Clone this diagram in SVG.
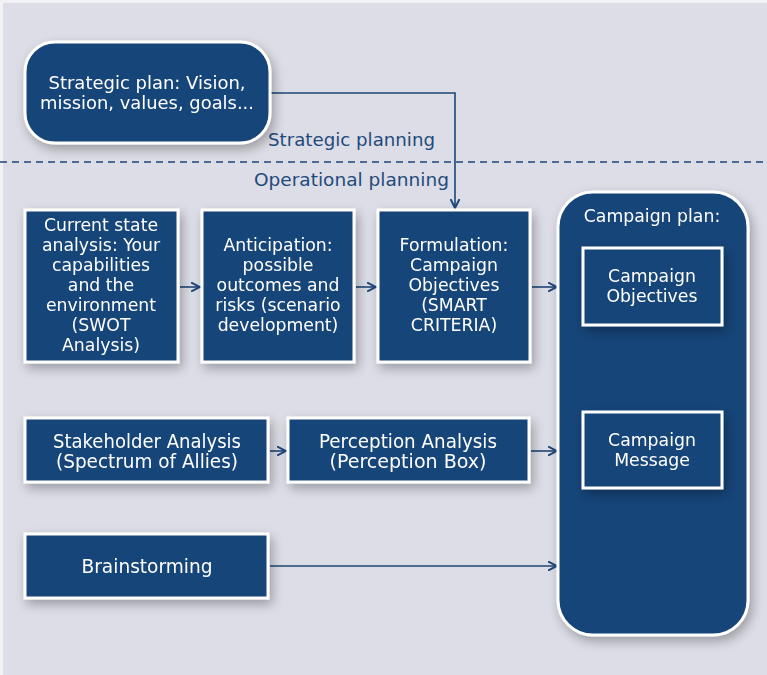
<svg xmlns="http://www.w3.org/2000/svg" width="767" height="675" viewBox="0 0 767 675">
<defs>
<filter id="sh" x="-30%" y="-30%" width="160%" height="160%">
<feGaussianBlur in="SourceAlpha" stdDeviation="6"/>
<feOffset dx="3" dy="5" result="b"/>
<feComponentTransfer><feFuncA type="linear" slope="0.3"/></feComponentTransfer>
<feMerge><feMergeNode/><feMergeNode in="SourceGraphic"/></feMerge>
</filter>
<marker id="ah2" viewBox="0 0 10 10" refX="9" refY="5" markerWidth="10" markerHeight="10" markerUnits="userSpaceOnUse" orient="auto">
<path d="M0,0.5 L9,5 L0,9.5" fill="none" stroke="#1d4679" stroke-width="2"/>
</marker>
</defs>
<style>
.box{fill:#174579;stroke:#ffffff;stroke-width:3}
.t{font-family:"DejaVu Sans","Liberation Sans",sans-serif;font-size:17.3px;fill:#ffffff;text-anchor:middle}
.c{font-family:"DejaVu Sans Condensed","DejaVu Sans","Liberation Sans",sans-serif;font-size:19px;fill:#ffffff;text-anchor:middle}
.lbl{font-family:"DejaVu Sans","Liberation Sans",sans-serif;font-size:18px;fill:#1f4a7c}
.ln{fill:none;stroke:#1d4679;stroke-width:1.6}
</style>
<rect width="767" height="675" fill="#dcdde6"/>
<rect x="0" y="0" width="767" height="3" fill="#f2f2f5"/>
<rect x="0" y="0" width="3" height="675" fill="#f2f2f5"/>

<g id="labels">
<line x1="0" y1="162" x2="767" y2="162" stroke="#1d4679" stroke-width="1.6" stroke-dasharray="7,5"/>
<text class="lbl" x="268" y="146" textLength="167" lengthAdjust="spacingAndGlyphs">Strategic planning</text>
<text class="lbl" x="254" y="186" textLength="195" lengthAdjust="spacingAndGlyphs">Operational planning</text>
</g>

<g id="connectors">
<path class="ln" d="M270,93 H455 V208" marker-end="url(#ah2)"/>
<path class="ln" d="M180,287 H200" marker-end="url(#ah2)"/>
<path class="ln" d="M356,287 H376" marker-end="url(#ah2)"/>
<path class="ln" d="M532,287 H557" marker-end="url(#ah2)"/>
<path class="ln" d="M270,451 H286" marker-end="url(#ah2)"/>
<path class="ln" d="M531,451 H557" marker-end="url(#ah2)"/>
<path class="ln" d="M270,566 H557" marker-end="url(#ah2)"/>
</g>

<g id="strategic-plan" filter="url(#sh)">
<rect class="box" x="25" y="42" width="245" height="101" rx="30"/>
<text class="t" x="147" y="89" textLength="197" lengthAdjust="spacingAndGlyphs">Strategic plan: Vision,</text>
<text class="t" x="147" y="109" textLength="214" lengthAdjust="spacingAndGlyphs">mission, values, goals...</text>
</g>

<g id="current-state" filter="url(#sh)">
<rect class="box" x="25" y="210" width="153" height="152"/>
<text class="t" x="101" y="231">Current state</text>
<text class="t" x="101" y="251">analysis: Your</text>
<text class="t" x="101" y="271">capabilities</text>
<text class="t" x="101" y="291">and the</text>
<text class="t" x="101" y="311">environment</text>
<text class="t" x="101" y="331">(SWOT</text>
<text class="t" x="101" y="351">Analysis)</text>
</g>

<g id="anticipation" filter="url(#sh)">
<rect class="box" x="202" y="210" width="152" height="152"/>
<text class="t" x="278" y="251">Anticipation:</text>
<text class="t" x="278" y="271">possible</text>
<text class="t" x="278" y="291">outcomes and</text>
<text class="t" x="278" y="311">risks (scenario</text>
<text class="t" x="278" y="331">development)</text>
</g>

<g id="formulation" filter="url(#sh)">
<rect class="box" x="378" y="210" width="152" height="152"/>
<text class="t" x="454" y="251">Formulation:</text>
<text class="t" x="454" y="271">Campaign</text>
<text class="t" x="454" y="291">Objectives</text>
<text class="t" x="454" y="311">(SMART</text>
<text class="t" x="454" y="331">CRITERIA)</text>
</g>

<g id="campaign-plan" filter="url(#sh)">
<rect class="box" x="558" y="192" width="190" height="443" rx="35"/>
<text class="t" x="652" y="222">Campaign plan:</text>
</g>

<g id="campaign-objectives" filter="url(#sh)">
<rect class="box" x="583" y="248" width="139" height="77"/>
<text class="t" x="652" y="282">Campaign</text>
<text class="t" x="652" y="302">Objectives</text>
</g>

<g id="campaign-message" filter="url(#sh)">
<rect class="box" x="583" y="412" width="139" height="76"/>
<text class="t" x="652" y="446">Campaign</text>
<text class="t" x="652" y="466">Message</text>
</g>

<g id="stakeholder-analysis" filter="url(#sh)">
<rect class="box" x="25" y="418" width="243" height="64"/>
<text class="c" x="147" y="448" textLength="188" lengthAdjust="spacingAndGlyphs">Stakeholder Analysis</text>
<text class="c" x="147" y="468" textLength="182" lengthAdjust="spacingAndGlyphs">(Spectrum of Allies)</text>
</g>

<g id="perception-analysis" filter="url(#sh)">
<rect class="box" x="288" y="418" width="241" height="64"/>
<text class="c" x="408" y="448" textLength="178" lengthAdjust="spacingAndGlyphs">Perception Analysis</text>
<text class="c" x="408" y="468" textLength="157" lengthAdjust="spacingAndGlyphs">(Perception Box)</text>
</g>

<g id="brainstorming" filter="url(#sh)">
<rect class="box" x="25" y="534" width="243" height="64"/>
<text class="c" x="147" y="573" textLength="131" lengthAdjust="spacingAndGlyphs">Brainstorming</text>
</g>
</svg>
